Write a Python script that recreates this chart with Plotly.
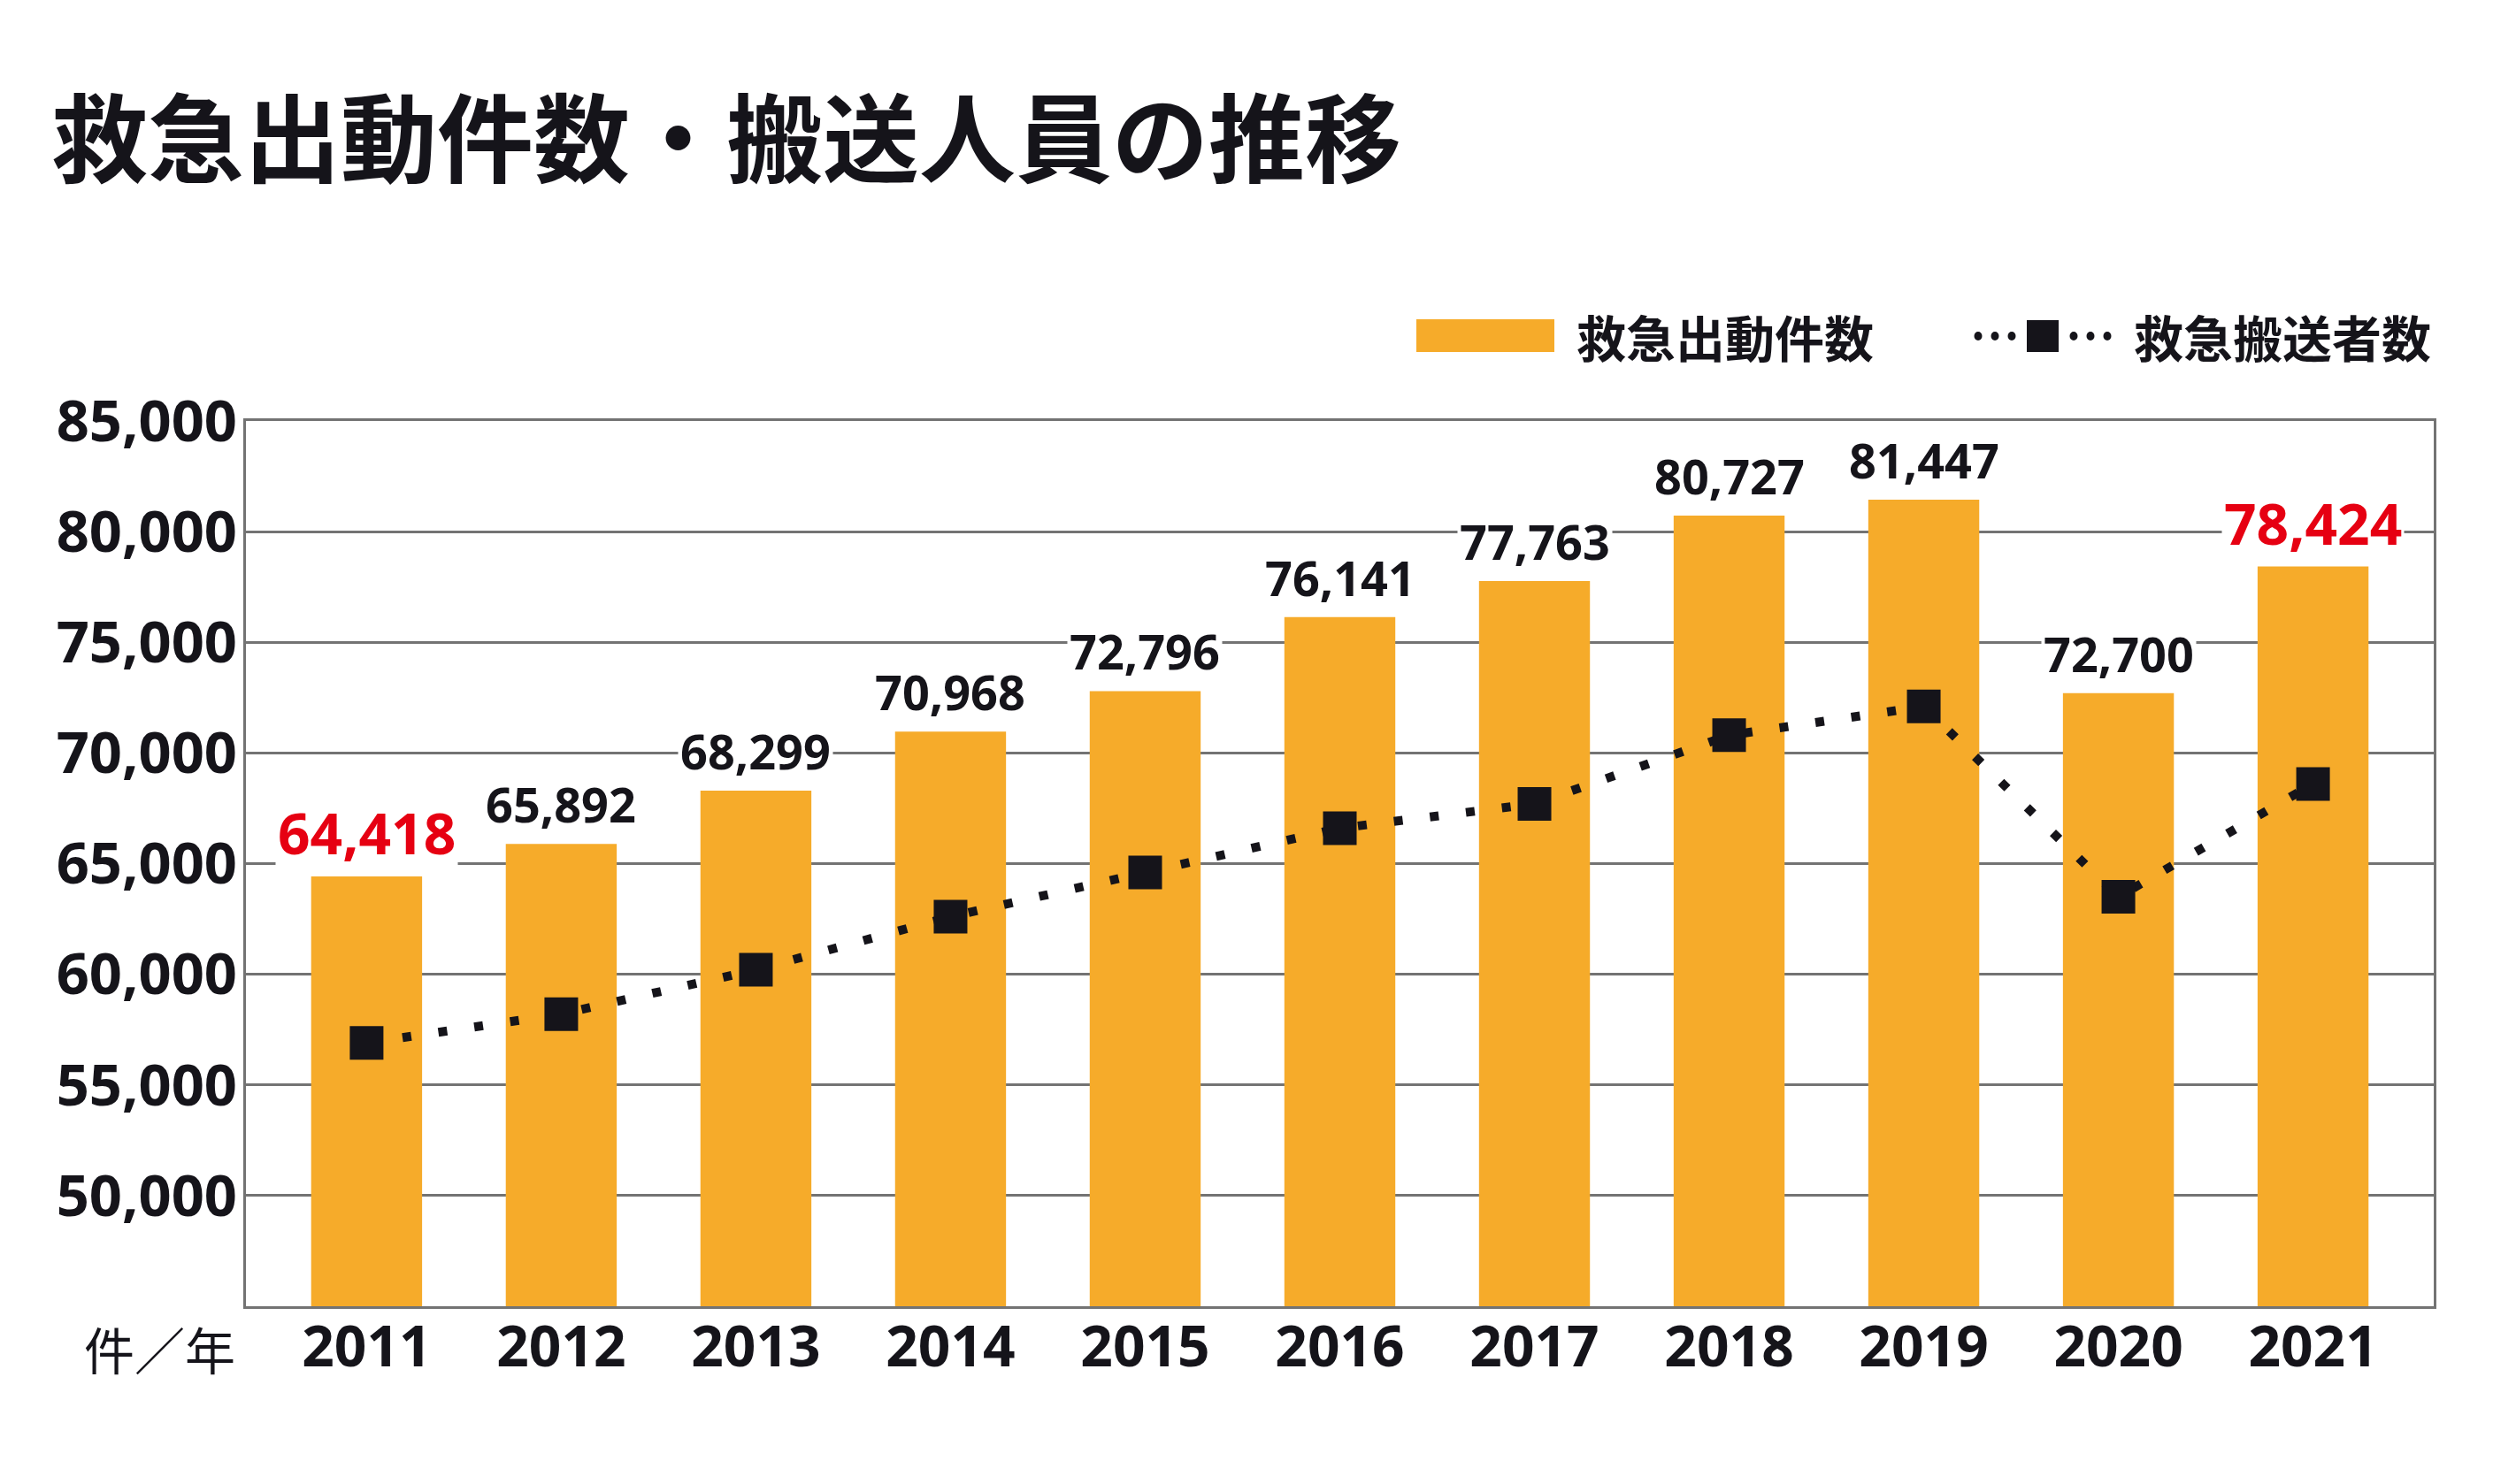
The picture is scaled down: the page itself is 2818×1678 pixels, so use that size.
import plotly.graph_objects as go

# ---- data ----
years = ["2011", "2012", "2013", "2014", "2015", "2016", "2017", "2018", "2019", "2020", "2021"]
dispatches = [64418, 65892, 68299, 70968, 72796, 76141, 77763, 80727, 81447, 72700, 78424]
transported = [56900, 58200, 60200, 62600, 64600, 66600, 67700, 70800, 72100, 63500, 68600]
highlight = [True, False, False, False, False, False, False, False, False, False, True]
ytick_vals = [50000, 55000, 60000, 65000, 70000, 75000, 80000, 85000]

title_text = "救急出動件数・搬送人員の推移"
name_bar = "救急出動件数"
name_line = "救急搬送者数"
unit_text = "件／年"

# ---- styling ----
OFF = 8  # default page body margin
W, H = 2818 - 2 * OFF, 1678 - 2 * OFF
# plot area in page pixels
L, R, T, B = 278, 2751, 476, 1477
ORANGE = "#F6AB2A"
BLACK = "#15141A"
RED = "#E60012"
GRID = "#737373"
NUM_FONT = "Open Sans, Noto Sans CJK JP, sans-serif"
CJK_FONT = "Noto Sans CJK JP, sans-serif"


def px2x(px):
    return (px - L) / (R - L)


def py2y(py):
    return (B - py) / (B - T)


fig = go.Figure()
fig.add_trace(go.Bar(
    x=years, y=dispatches, name=name_bar,
    marker=dict(color=ORANGE, line=dict(width=0)),
    width=0.57, showlegend=False,
))
fig.add_trace(go.Scatter(
    x=years, y=transported, name=name_line, mode="lines+markers",
    line=dict(color=BLACK, width=10, dash="10px,31px"),
    marker=dict(symbol="square", size=38, color=BLACK, line=dict(width=0)),
    showlegend=False,
))

annotations = []
for i, (v, hl) in enumerate(zip(dispatches, highlight)):
    annotations.append(dict(
        x=i, y=v, xref="x", yref="y", text=f"{v:,}", showarrow=False,
        yanchor="bottom", yshift=3 if hl else 5,
        bgcolor="white", borderpad=2,
        font=dict(family=NUM_FONT, size=64 if hl else 54, color=RED if hl else BLACK, weight="bold"),
    ))

# unit label
annotations.append(dict(
    x=px2x(268), y=py2y(1524), xref="paper", yref="paper", text=unit_text,
    showarrow=False, xanchor="right", yanchor="middle",
    font=dict(family=CJK_FONT, size=57, color=BLACK),
))

# custom legend texts
annotations.append(dict(
    x=px2x(1780), y=py2y(380), xref="paper", yref="paper", text=name_bar,
    showarrow=False, xanchor="left", yanchor="middle",
    font=dict(family=CJK_FONT, size=56, color=BLACK, weight="bold"),
))
annotations.append(dict(
    x=px2x(2410), y=py2y(380), xref="paper", yref="paper", text=name_line,
    showarrow=False, xanchor="left", yanchor="middle",
    font=dict(family=CJK_FONT, size=56, color=BLACK, weight="bold"),
))

shapes = []
shapes.append(dict(type="rect", xref="paper", yref="paper",
                   x0=px2x(1601), x1=px2x(1757), y0=py2y(398), y1=py2y(361),
                   fillcolor=ORANGE, line=dict(width=0)))
shapes.append(dict(type="rect", xref="paper", yref="paper",
                   x0=px2x(2291), x1=px2x(2327), y0=py2y(398), y1=py2y(362),
                   fillcolor=BLACK, line=dict(width=0)))
for cx in [2236, 2255, 2274, 2344, 2363, 2382]:
    shapes.append(dict(type="circle", xref="paper", yref="paper",
                       x0=px2x(cx - 4.5), x1=px2x(cx + 4.5), y0=py2y(385), y1=py2y(375),
                       fillcolor=BLACK, line=dict(width=0)))

fig.update_layout(
    width=W, height=H,
    margin=dict(l=L - OFF, r=W - (R - OFF), t=T - OFF, b=H - (B - OFF), pad=0),
    paper_bgcolor="white", plot_bgcolor="white",
    title=dict(text=title_text, x=(58 - OFF) / W, xanchor="left", y=1 - (160 - OFF) / H, yanchor="middle",
               font=dict(family=CJK_FONT, size=109, color=BLACK, weight="bold")),
    annotations=annotations, shapes=shapes,
    showlegend=False,
)
fig.update_xaxes(
    type="category", range=[-0.62, 10.62],
    showgrid=False, showline=True, mirror=True, linecolor=GRID, linewidth=3,
    ticks="", ticklabelstandoff=-12,
    tickfont=dict(family=NUM_FONT, size=64, color=BLACK, weight="bold"),
)
fig.update_yaxes(
    range=[45000, 85000], tickvals=ytick_vals, tickformat=",",
    showgrid=True, gridcolor=GRID, gridwidth=2.5, zeroline=False,
    showline=True, mirror=True, linecolor=GRID, linewidth=3,
    ticks="", ticklabelstandoff=-6,
    tickfont=dict(family=NUM_FONT, size=65, color=BLACK, weight="bold"),
)

fig.write_html("out.html")
